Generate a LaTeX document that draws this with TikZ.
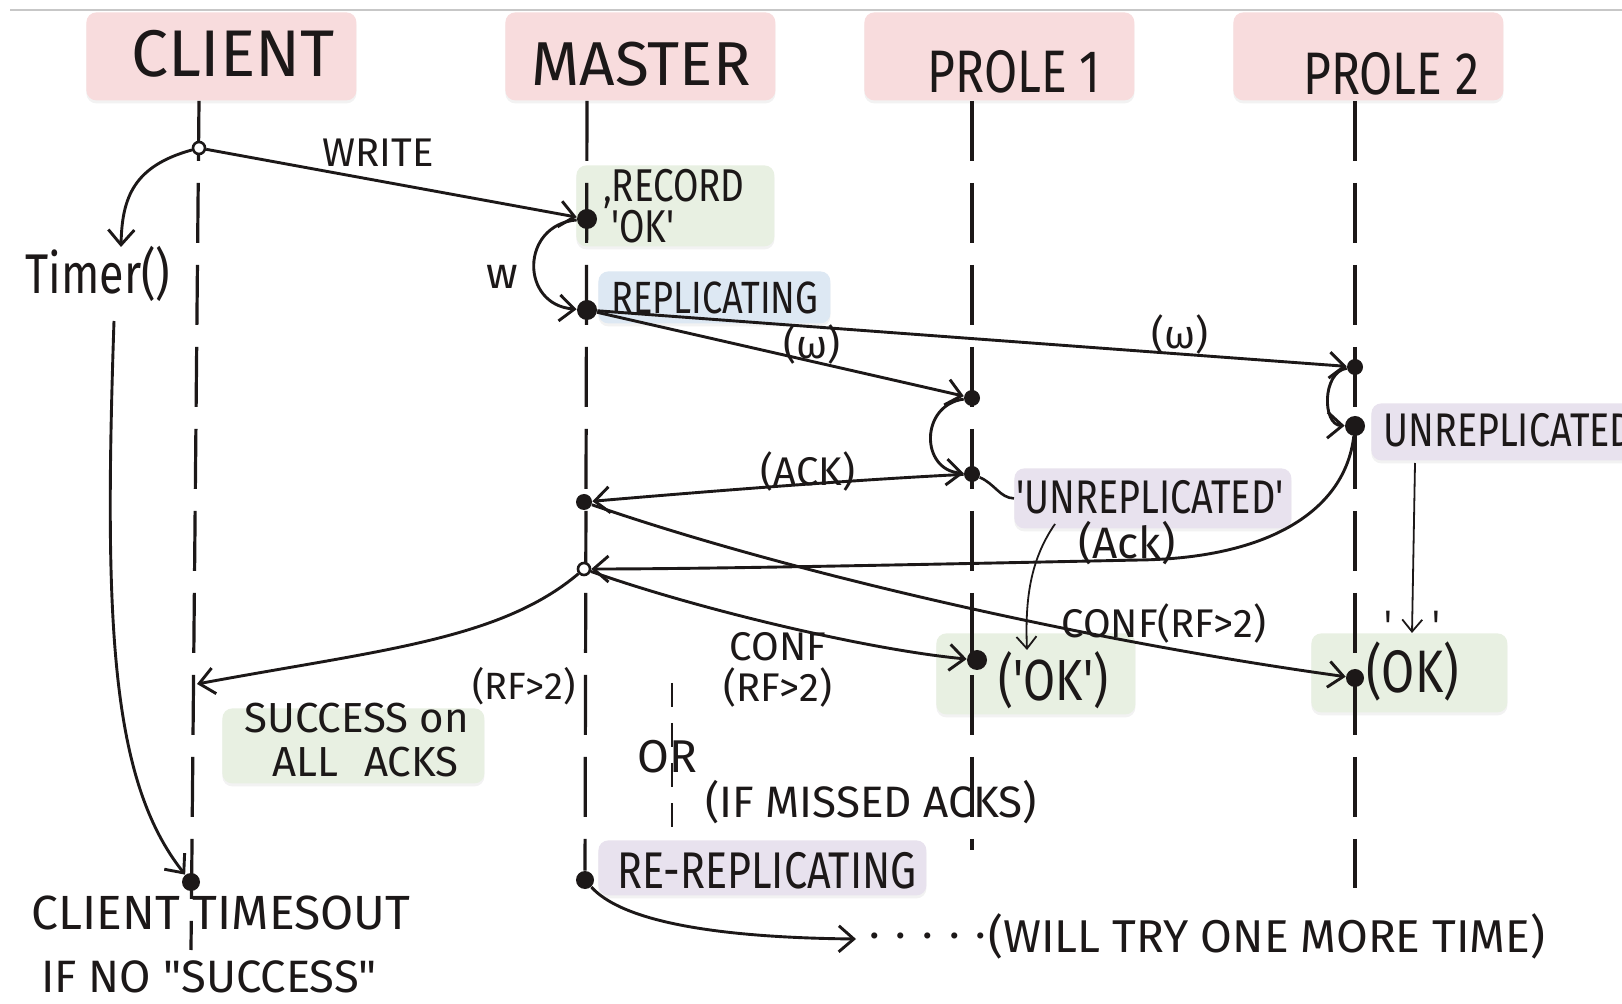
\documentclass[tikz,border=0pt]{standalone}
\usepackage{fontspec}
\setmainfont{Fira Sans}
\newfontfamily\narrowhand{Fira Sans}[FakeStretch=0.8]
\usetikzlibrary{arrows.meta,shadows,backgrounds}
\definecolor{ink}{HTML}{1C1818}
\definecolor{hdrpink}{HTML}{F8DCDD}
\definecolor{notegreen}{HTML}{E8F0E2}
\definecolor{noteblue}{HTML}{DDE8F3}
\definecolor{notepurple}{HTML}{E8E2EE}
\newcommand\fsz[2]{\fontsize{#1pt}{#2pt}\selectfont}
\begin{document}
\begin{tikzpicture}[x=0.5pt,y=-0.5pt,
  box/.style={anchor=north west, rounded corners=5pt, inner sep=0pt,
     drop shadow={shadow xshift=0pt, shadow yshift=-1.5pt, opacity=0.10}},
  hdrbox/.style={box, fill=hdrpink, minimum width=135pt, minimum height=44pt},
  greenbox/.style={box, fill=notegreen},
  bluebox/.style={box, fill=noteblue},
  purplebox/.style={box, fill=notepurple},
  life/.style={draw=ink, line width=1.6pt, dash pattern=on 30pt off 11pt},
  msg/.style={draw=ink, line width=1.45pt, -{Straight Barb[length=7.5pt,width=13pt]}},
  fine/.style={draw=ink, line width=0.9pt, -{Straight Barb[length=6pt,width=10pt]}},
  dot/.style={circle, fill=ink, inner sep=0pt, minimum size=#1},
  dot/.default=8pt,
  odot/.style={circle, draw=ink, fill=white, line width=1.3pt, inner sep=0pt, minimum size=6pt},
  lbl/.style={inner sep=0pt, text=ink, font=\fsz{20}{22}},
  nlbl/.style={inner sep=0pt, text=ink},
]
\useasboundingbox (0,0) rectangle (1622,1004);

% event dots on the lifelines
\node[odot] (dW) at (199,148) {};
\node[dot=10pt] (dM1) at (587,219) {};
\node[dot=10pt] (dM2) at (587,310) {};
\node[dot=8pt] (dP1a) at (972,398) {};
\node[dot=8pt] (dP1b) at (972,474) {};
\node[dot=8pt] (dP2a) at (1355,367) {};
\node[dot=10pt] (dP2b) at (1355,426) {};
\node[dot=8pt] (dM3) at (584,502) {};
\node[odot] (dM4) at (584,569) {};
\node[dot=10pt] (dP1c) at (977,660) {};
\node[dot=9pt] (dP2c) at (1355,678) {};
\node[dot=9pt] (dC2) at (191,882) {};
\node[dot=9pt] (dM5) at (585,880) {};

% free ends of connectors
\coordinate (tmTop) at (121,247);
\coordinate (tmBot) at (114,321);
\coordinate (cS) at (197,684);
\coordinate (a1) at (1055,524);
\coordinate (a2) at (1027,650);
\coordinate (b1) at (1415,463);
\coordinate (b2) at (1412,633);
\coordinate (tr) at (856,939);
\coordinate (cEnd) at (191,950);
\coordinate (p1End) at (972,850);
\coordinate (p2End) at (1355,888);
\coordinate (orTop) at (672,683);
\coordinate (orBot) at (672,828);

\begin{scope}[on background layer]
  \fill[white] (0,0) rectangle (1622,1004);
  \draw[black!22, line width=0.6pt] (10,10) -- (1622,10);
  % participant headers
  \node[hdrbox] (hC) at (86,12) {};
  \node[hdrbox] (hM) at (505,12) {};
  \node[hdrbox] (hP1) at (864,12) {};
  \node[hdrbox] (hP2) at (1233,12) {};
  % state notes
  \node[greenbox, minimum width=99pt, minimum height=40.5pt] (bRec) at (576,165) {};
  \node[bluebox, minimum width=116pt, minimum height=26pt] (bRep) at (598,271) {};
  \node[purplebox, minimum width=138.5pt, minimum height=30pt] (bU1) at (1014,468) {};
  \node[purplebox, minimum width=130pt, minimum height=28.5pt] (bU2) at (1371,403) {};
  \node[greenbox, minimum width=99.5pt, minimum height=40.5pt] (bOK1) at (936,633) {};
  \node[greenbox, minimum width=98pt, minimum height=39.5pt] (bOK2) at (1311,633) {};
  \node[greenbox, minimum width=131pt, minimum height=37.5pt] (bSuc) at (222,708) {};
  \node[purplebox, minimum width=164pt, minimum height=27.5pt] (bRR) at (598,840) {};
  % lifelines
  \draw[life] (hC.south -| dW) -- (cEnd);
  \draw[life] (hM.south -| dM1) -- (dM5);
  \draw[life] (hP1.south -| dP1a) -- (p1End);
  \draw[life] (hP2.south -| dP2a) -- (p2End);
  \draw[draw=ink, line width=1.2pt, dash pattern=on 12pt off 8pt] (orTop) -- (orBot);
\end{scope}

% messages
\draw[msg] (dW) -- (dM1);
\draw[msg] (dW) .. controls (134,166) and (122,197) .. (tmTop);
\draw[msg] (tmBot) .. controls (104,620) and (110,780) .. (dC2);
\draw[msg] (dM1) .. controls (520,225) and (520,305) .. (dM2);
\draw[msg] (dM2) -- (dP1a);
\draw[msg] (dM2) -- (dP2a);
\draw[msg] (dP1a) .. controls (920,405) and (920,470) .. (dP1b);
\draw[draw=ink, line width=1.3pt] (dP1b) .. controls (995,484) and (1000,498) .. (bU1.west);
\draw[msg] (dP1b) .. controls (850,480) and (700,492) .. (dM3);
\draw[msg] (dP2a) .. controls (1322,372) and (1322,425) .. (dP2b);
\draw[msg] (dP2b) .. controls (1345,510) and (1270,558) .. (1140,560)
                  .. controls (900,565) and (700,569) .. (dM4);
\draw[msg] (dM3) .. controls (780,570) and (1080,640) .. (dP2c);
\draw[msg] (dM4) .. controls (700,610) and (870,650) .. (dP1c);
\draw[msg] (dM4) .. controls (500,640) and (380,650) .. (cS);
\draw[fine] (a1) .. controls (1030,560) and (1025,600) .. (a2);
\draw[fine] (b1) -- (b2);
\draw[msg] (dM5) .. controls (630,930) and (760,938) .. (tr);

% header texts
\node[lbl, font=\fsz{33}{36}] (tC) at (233,54) {CLIENT};
\node[lbl, font=\fsz{31}{34}] (tM) at (641,64) {MASTER};
\node[nlbl, font=\narrowhand\fsz{30}{32}] (tP1) at (1014,72) {PROLE 1};
\node[nlbl, font=\narrowhand\fsz{30}{32}] (tP2) at (1391,74) {PROLE 2};

% note texts
\node[nlbl, anchor=west, align=left, font=\narrowhand\fsz{23}{18}] (tRec) at (603,206) {‚RECORD\\\hspace*{4pt}'OK'};
\node[nlbl, anchor=west, font=\narrowhand\fsz{22.6}{24}] (tRep) at (611,298) {REPLICATING};
\node[nlbl, anchor=west, font=\narrowhand\fsz{23.6}{24}] (tU1) at (1016,497) {'UNREPLICATED'};
\node[nlbl, anchor=west, font=\narrowhand\fsz{23.6}{24}] (tU2) at (1383,430) {UNREPLICATED};
\node[nlbl, anchor=west, font=\narrowhand\fsz{29}{30}] (tOK1) at (998,680) {('OK')};
\node[nlbl, anchor=west, font=\narrowhand\fsz{30}{30}] (tOK2) at (1366,672) {(OK)};
\node[nlbl, font=\narrowhand\fsz{22}{24}] (tOK2q) at (1412,626) {'\hspace{20pt}'};
\node[nlbl, anchor=west, align=left, font=\fsz{21}{22}] (tSuc) at (244,740) {SUCCESS on\\\hspace*{14pt}ALL\hspace{13pt}ACKS};
\node[nlbl, anchor=west, font=\narrowhand\fsz{25.8}{26}] (tRR) at (617,871) {RE-REPLICATING};

% message labels
\node[lbl] (lWrite) at (378,153) {WRITE};
\node[nlbl, font=\narrowhand\fsz{28}{30}] (lTimer) at (98,274) {Timer()};
\node[lbl, font=\fsz{22}{24}] (lw) at (502,277) {w};
\node[lbl] (lw1) at (812,345) {(ω)};
\node[lbl] (lw2) at (1180,335) {(ω)};
\node[lbl] (lAck1) at (808,472) {(ACK)};
\node[lbl, font=\fsz{22}{24}] (lAck2) at (1127,543) {(Ack)};
\node[lbl] (lConf2) at (1164,624) {CONF(RF>2)};
\node[lbl, align=center, font=\fsz{20}{20.5}] (lConf1) at (778,670) {CONF\\(RF>2)};
\node[lbl, font=\fsz{19}{20}] (lRF) at (524,686) {(RF>2)};
\node[lbl, font=\fsz{23}{24}] (lOr) at (667,757) {OR};
\node[lbl, font=\fsz{22}{22}] (lMiss) at (871,802) {(IF MISSED ACKS)};
\node[lbl, font=\fsz{24}{26}] (lTimeout) at (221,913) {CLIENT TIMESOUT};
\node[lbl, font=\fsz{22.7}{24}] (lNoSucc) at (209,977) {IF NO \textquotedbl SUCCESS\textquotedbl};
\node[lbl, anchor=west, font=\fsz{22}{24}] (lDots) at (869,936) {.\hspace{8pt}.\hspace{8pt}.\hspace{8pt}.\hspace{8pt}.};
\node[lbl, anchor=west, font=\fsz{23}{24}] (lTry) at (988,936) {(WILL TRY ONE MORE TIME)};
\end{tikzpicture}
\end{document}
